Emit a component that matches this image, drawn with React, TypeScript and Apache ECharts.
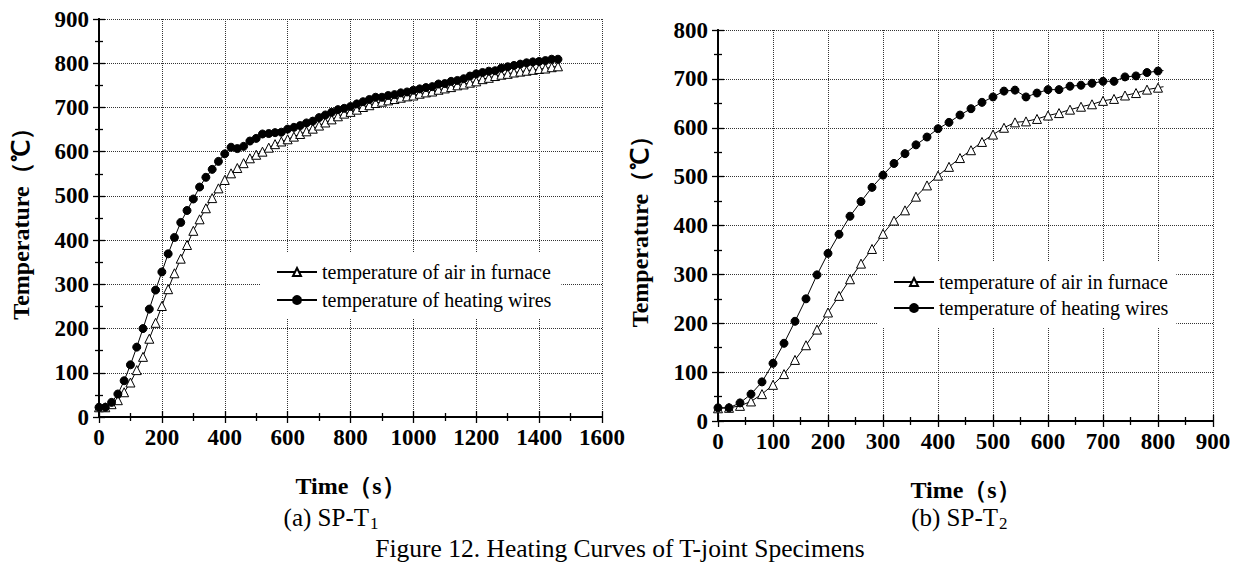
import React, { useEffect, useRef } from "react";
import * as echarts from "echarts";

// ---- Data: (a) SP-T1 ----
const timeA = [
  0, 20, 40, 60, 80, 100, 120, 140, 160, 180, 200, 220, 240, 260, 280, 300, 320, 340, 360, 380,
  400, 420, 440, 460, 480, 500, 520, 540, 560, 580, 600, 620, 640, 660, 680, 700, 720, 740, 760, 780,
  800, 820, 840, 860, 880, 900, 920, 940, 960, 980, 1000, 1020, 1040, 1060, 1080, 1100, 1120, 1140, 1160, 1180,
  1200, 1220, 1240, 1260, 1280, 1300, 1320, 1340, 1360, 1380, 1400, 1420, 1440, 1460,
];
const airA = [
  22, 22, 29, 38, 56, 78, 106, 136, 177, 213, 251, 289, 325, 358, 389, 421, 447, 472, 495, 517,
  536, 551, 563, 574, 585, 593, 600, 609, 617, 623, 628, 634, 640, 646, 652, 659, 666, 673, 680, 686,
  690, 695, 701, 705, 710, 713, 716, 719, 722, 725, 727, 731, 734, 736, 740, 743, 746, 750, 752, 756,
  759, 764, 767, 771, 774, 776, 779, 781, 783, 785, 787, 788, 791, 793,
];
const wiresA = [
  22, 22, 33, 52, 82, 118, 158, 200, 244, 287, 328, 369, 406, 440, 467, 493, 520, 542, 560, 578,
  595, 610, 607, 612, 624, 630, 640, 641, 643, 644, 651, 655, 659, 665, 669, 677, 683, 689, 695, 698,
  702, 708, 713, 718, 723, 723, 727, 729, 733, 735, 739, 742, 745, 747, 753, 754, 759, 761, 765, 771,
  776, 779, 782, 783, 789, 792, 795, 798, 801, 803, 804, 806, 809, 809,
];

// ---- Data: (b) SP-T2 ----
const timeB = [
  0, 20, 40, 60, 80, 100, 120, 140, 160, 180, 200, 220, 240, 260, 280, 300, 320, 340, 360, 380,
  400, 420, 440, 460, 480, 500, 520, 540, 560, 580, 600, 620, 640, 660, 680, 700, 720, 740, 760, 780,
  800, 810,
];
const airB = [
  26, 27, 31, 40, 55, 74, 96, 125, 155, 187, 222, 256, 290, 322, 352, 383, 410, 431, 459, 482,
  502, 520, 538, 554, 571, 586, 600, 611, 613, 618, 625, 630, 637, 643, 648, 655, 659, 666, 671, 678,
  682, 684,
];
const wiresB = [
  27, 27, 37, 55, 80, 118, 159, 204, 250, 299, 343, 382, 419, 449, 478, 503, 527, 547, 565, 581,
  598, 611, 626, 639, 652, 663, 675, 677, 663, 671, 678, 678, 685, 687, 691, 695, 695, 704, 706, 713,
  716, 717,
];

const seriesNames = ["temperature of air in furnace", "temperature of heating wires"];
const xTitle = "Time（s）";
const yTitle = "Temperature（℃）";

const SERIF = "'Liberation Serif', 'Times New Roman', serif";

function pairs(xs: number[], ys: number[], lastNoSymbol: boolean) {
  return xs.map((x, i) => {
    if (lastNoSymbol && i === xs.length - 1) {
      return { value: [x, ys[i]], symbol: "none" };
    }
    return [x, ys[i]];
  });
}

export default function App() {
  const ref = useRef<HTMLDivElement>(null);

  useEffect(() => {
    if (!ref.current) return;
    const chart = echarts.init(ref.current, null, { renderer: "svg" });

    const axisLine = { show: true, lineStyle: { color: "#000", width: 1.8 } };
    const labelStyle = {
      fontFamily: SERIF, fontWeight: "bold" as const, fontSize: 23, color: "#000",
      formatter: (v: number) => String(v),
    };
    const nameStyle = { fontFamily: SERIF, fontWeight: "bold" as const, fontSize: 24, color: "#000" };
    const split = { show: true, lineStyle: { color: "#333", type: "dotted" as const, width: 1 } };
    const tick = { show: true, length: 6, lineStyle: { color: "#000", width: 1.3 } };
    const minor = { show: true, splitNumber: 2, length: 4, lineStyle: { color: "#000", width: 1.3 } };

    const mkX = (grid: number, max: number, interval: number) => [
      {
        type: "value", gridIndex: grid, min: 0, max, interval, position: "bottom",
        axisLine, axisTick: tick, minorTick: minor, splitLine: split,
        axisLabel: { ...labelStyle, margin: 9 },
        name: xTitle, nameLocation: "middle", nameGap: 57, nameTextStyle: nameStyle,
      },
      {
        type: "value", gridIndex: grid, min: 0, max, interval, position: "top",
        axisLine, axisTick: tick, minorTick: minor, splitLine: { show: false },
        axisLabel: { show: false },
      },
    ];
    const mkY = (grid: number, max: number) => [
      {
        type: "value", gridIndex: grid, min: 0, max, interval: 100, position: "left",
        axisLine, axisTick: tick, minorTick: minor, splitLine: split,
        axisLabel: { ...labelStyle, margin: 10 },
        name: yTitle, nameLocation: "middle", nameGap: 66, nameTextStyle: nameStyle,
      },
      {
        type: "value", gridIndex: grid, min: 0, max, interval: 100, position: "right",
        axisLine, axisTick: tick, minorTick: minor, splitLine: { show: false },
        axisLabel: { show: false },
      },
    ];

    const lineSeries = (
      name: string, xAxisIndex: number, yAxisIndex: number, data: any[], tri: boolean
    ) => ({
      name, type: "line", xAxisIndex, yAxisIndex, data,
      symbol: tri ? "triangle" : "circle",
      symbolSize: tri ? 9 : 8,
      showAllSymbol: true,
      lineStyle: { color: "#000", width: 1 },
      itemStyle: tri
        ? { color: "#fff", borderColor: "#000", borderWidth: 1 }
        : { color: "#000", borderColor: "#000", borderWidth: 1 },
      emphasis: { disabled: true },
      z: tri ? 3 : 4,
    });

    const legendText = { fontFamily: SERIF, fontSize: 20, color: "#000" };

    chart.setOption({
      animation: false,
      backgroundColor: "#fff",
      grid: [
        { left: 99, right: 638, top: 19, bottom: 155, containLabel: false },
        { left: 718, right: 27, top: 30, bottom: 151, containLabel: false },
      ],
      xAxis: [...mkX(0, 1600, 200), ...mkX(1, 900, 100)],
      yAxis: [...mkY(0, 900), ...mkY(1, 800)],
      legend: [
        {
          data: seriesNames, orient: "vertical", left: 261, top: 253,
          backgroundColor: "#fff", padding: [9, 10, 9, 15], itemGap: 8,
          itemWidth: 40, itemHeight: 10, textStyle: legendText, selectedMode: false,
        },
        {
          data: seriesNames, orient: "vertical", left: 878, top: 261,
          backgroundColor: "#fff", padding: [11, 8, 10, 15], itemGap: 6,
          itemWidth: 40, itemHeight: 10, textStyle: legendText, selectedMode: false,
        },
      ],
      series: [
        lineSeries(seriesNames[0], 0, 0, pairs(timeA, airA, false), true),
        lineSeries(seriesNames[1], 0, 0, pairs(timeA, wiresA, false), false),
        lineSeries(seriesNames[0], 2, 2, pairs(timeB, airB, true), true),
        lineSeries(seriesNames[1], 2, 2, pairs(timeB, wiresB, true), false),
      ],
      graphic: [
        {
          type: "text", x: 369, y: 517,
          style: { text: "(a) SP-T", font: `25px ${SERIF}`, fill: "#000", textAlign: "right", textVerticalAlign: "middle" },
        },
        {
          type: "text", x: 370, y: 523,
          style: { text: "1", font: `17px ${SERIF}`, fill: "#000", textAlign: "left", textVerticalAlign: "middle" },
        },
        {
          type: "text", x: 998, y: 517,
          style: { text: "(b) SP-T", font: `25px ${SERIF}`, fill: "#000", textAlign: "right", textVerticalAlign: "middle" },
        },
        {
          type: "text", x: 999, y: 523,
          style: { text: "2", font: `17px ${SERIF}`, fill: "#000", textAlign: "left", textVerticalAlign: "middle" },
        },
        {
          type: "text", x: 620, y: 548,
          style: {
            text: "Figure 12. Heating Curves of T-joint Specimens", font: `25.5px ${SERIF}`,
            fill: "#000", textAlign: "center", textVerticalAlign: "middle",
          },
        },
      ],
    });

    return () => chart.dispose();
  }, []);

  return (
    <div
      ref={ref}
      style={{ position: "absolute", left: 0, top: 0, width: 1240, height: 572 }}
    />
  );
}
